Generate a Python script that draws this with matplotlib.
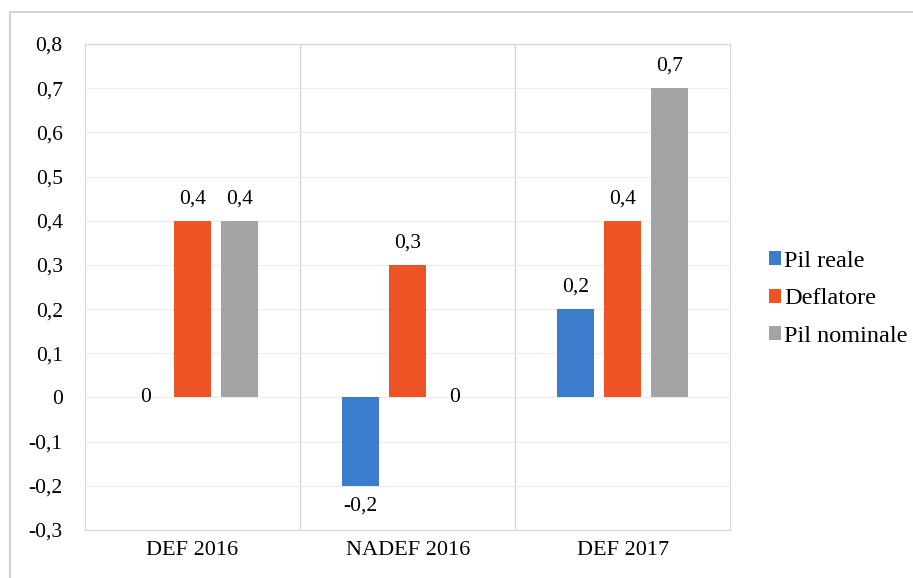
import matplotlib.pyplot as plt
import numpy as np

categories = ['DEF 2016', 'NADEF 2016', 'DEF 2017']
pil_reale = [0, -0.2, 0.2]
deflatore = [0.4, 0.3, 0.4]
pil_nominale = [0.4, 0, 0.7]
series_names = ['Pil reale', 'Deflatore', 'Pil nominale']
yticks = [-0.3, -0.2, -0.1, 0, 0.1, 0.2, 0.3, 0.4, 0.5, 0.6, 0.7, 0.8]

colors = ['#3B7DCC', '#EE5326', '#A3A3A3']

plt.rcParams['font.family'] = ['Liberation Serif', 'DejaVu Serif']
fs = 15.5


def fmt(v):
    s = ('%.1f' % v).replace('.', ',')
    if s in ('0,0', '-0,0'):
        s = '0'
    return s


fig = plt.figure(figsize=(9.13, 5.78), dpi=100)
ax = fig.add_axes([0.093, 0.083, 0.707, 0.841])

# frame round the whole picture, like the scan
fig.patches.append(plt.Rectangle((0.011, -0.01), 0.995, 0.99, transform=fig.transFigure,
                                 fill=False, edgecolor='#C8C8C8', linewidth=1.2))

x = np.arange(len(categories))
spacing = 0.2186
width = 0.172
all_series = [pil_reale, deflatore, pil_nominale]

for i, vals in enumerate(all_series):
    xs = x + (i - 1) * spacing
    ax.bar(xs, vals, width, color=colors[i], label=series_names[i], zorder=3)
    for xi, v in zip(xs, vals):
        if v > 0:
            ax.text(xi, v + 0.028, fmt(v), ha='center', va='bottom', fontsize=fs)
        elif v < 0:
            ax.text(xi, v - 0.025, fmt(v), ha='center', va='top', fontsize=fs)
        else:
            ax.text(xi, v, fmt(v), ha='center', va='center', fontsize=fs)

ax.set_xlim(-0.5, 2.5)
ax.set_ylim(-0.3, 0.8)
ax.set_yticks(yticks)
ax.set_yticklabels([fmt(v) for v in yticks], fontsize=fs)
ax.set_xticks(x)
ax.set_xticklabels(categories, fontsize=16)
ax.tick_params(length=0, pad=8)
ax.tick_params(axis='y', pad=16)

ax.grid(axis='y', color='#EDEDED', linewidth=0.8, zorder=0)
for sep in [0.5, 1.5]:
    ax.axvline(sep, color='#D6D6D6', linewidth=1, zorder=1)
for sp in ax.spines.values():
    sp.set_color('#D6D6D6')

handles, labels = ax.get_legend_handles_labels()
fig.legend(handles, labels, loc='center left', bbox_to_anchor=(769 / 913, 1 - 299 / 578),
           bbox_transform=fig.transFigure, frameon=False, borderpad=0, borderaxespad=0,
           fontsize=17.5, handlelength=0.5, handleheight=0.5, handletextpad=0.12,
           labelspacing=0.68)

plt.savefig('out.png', dpi=100)
